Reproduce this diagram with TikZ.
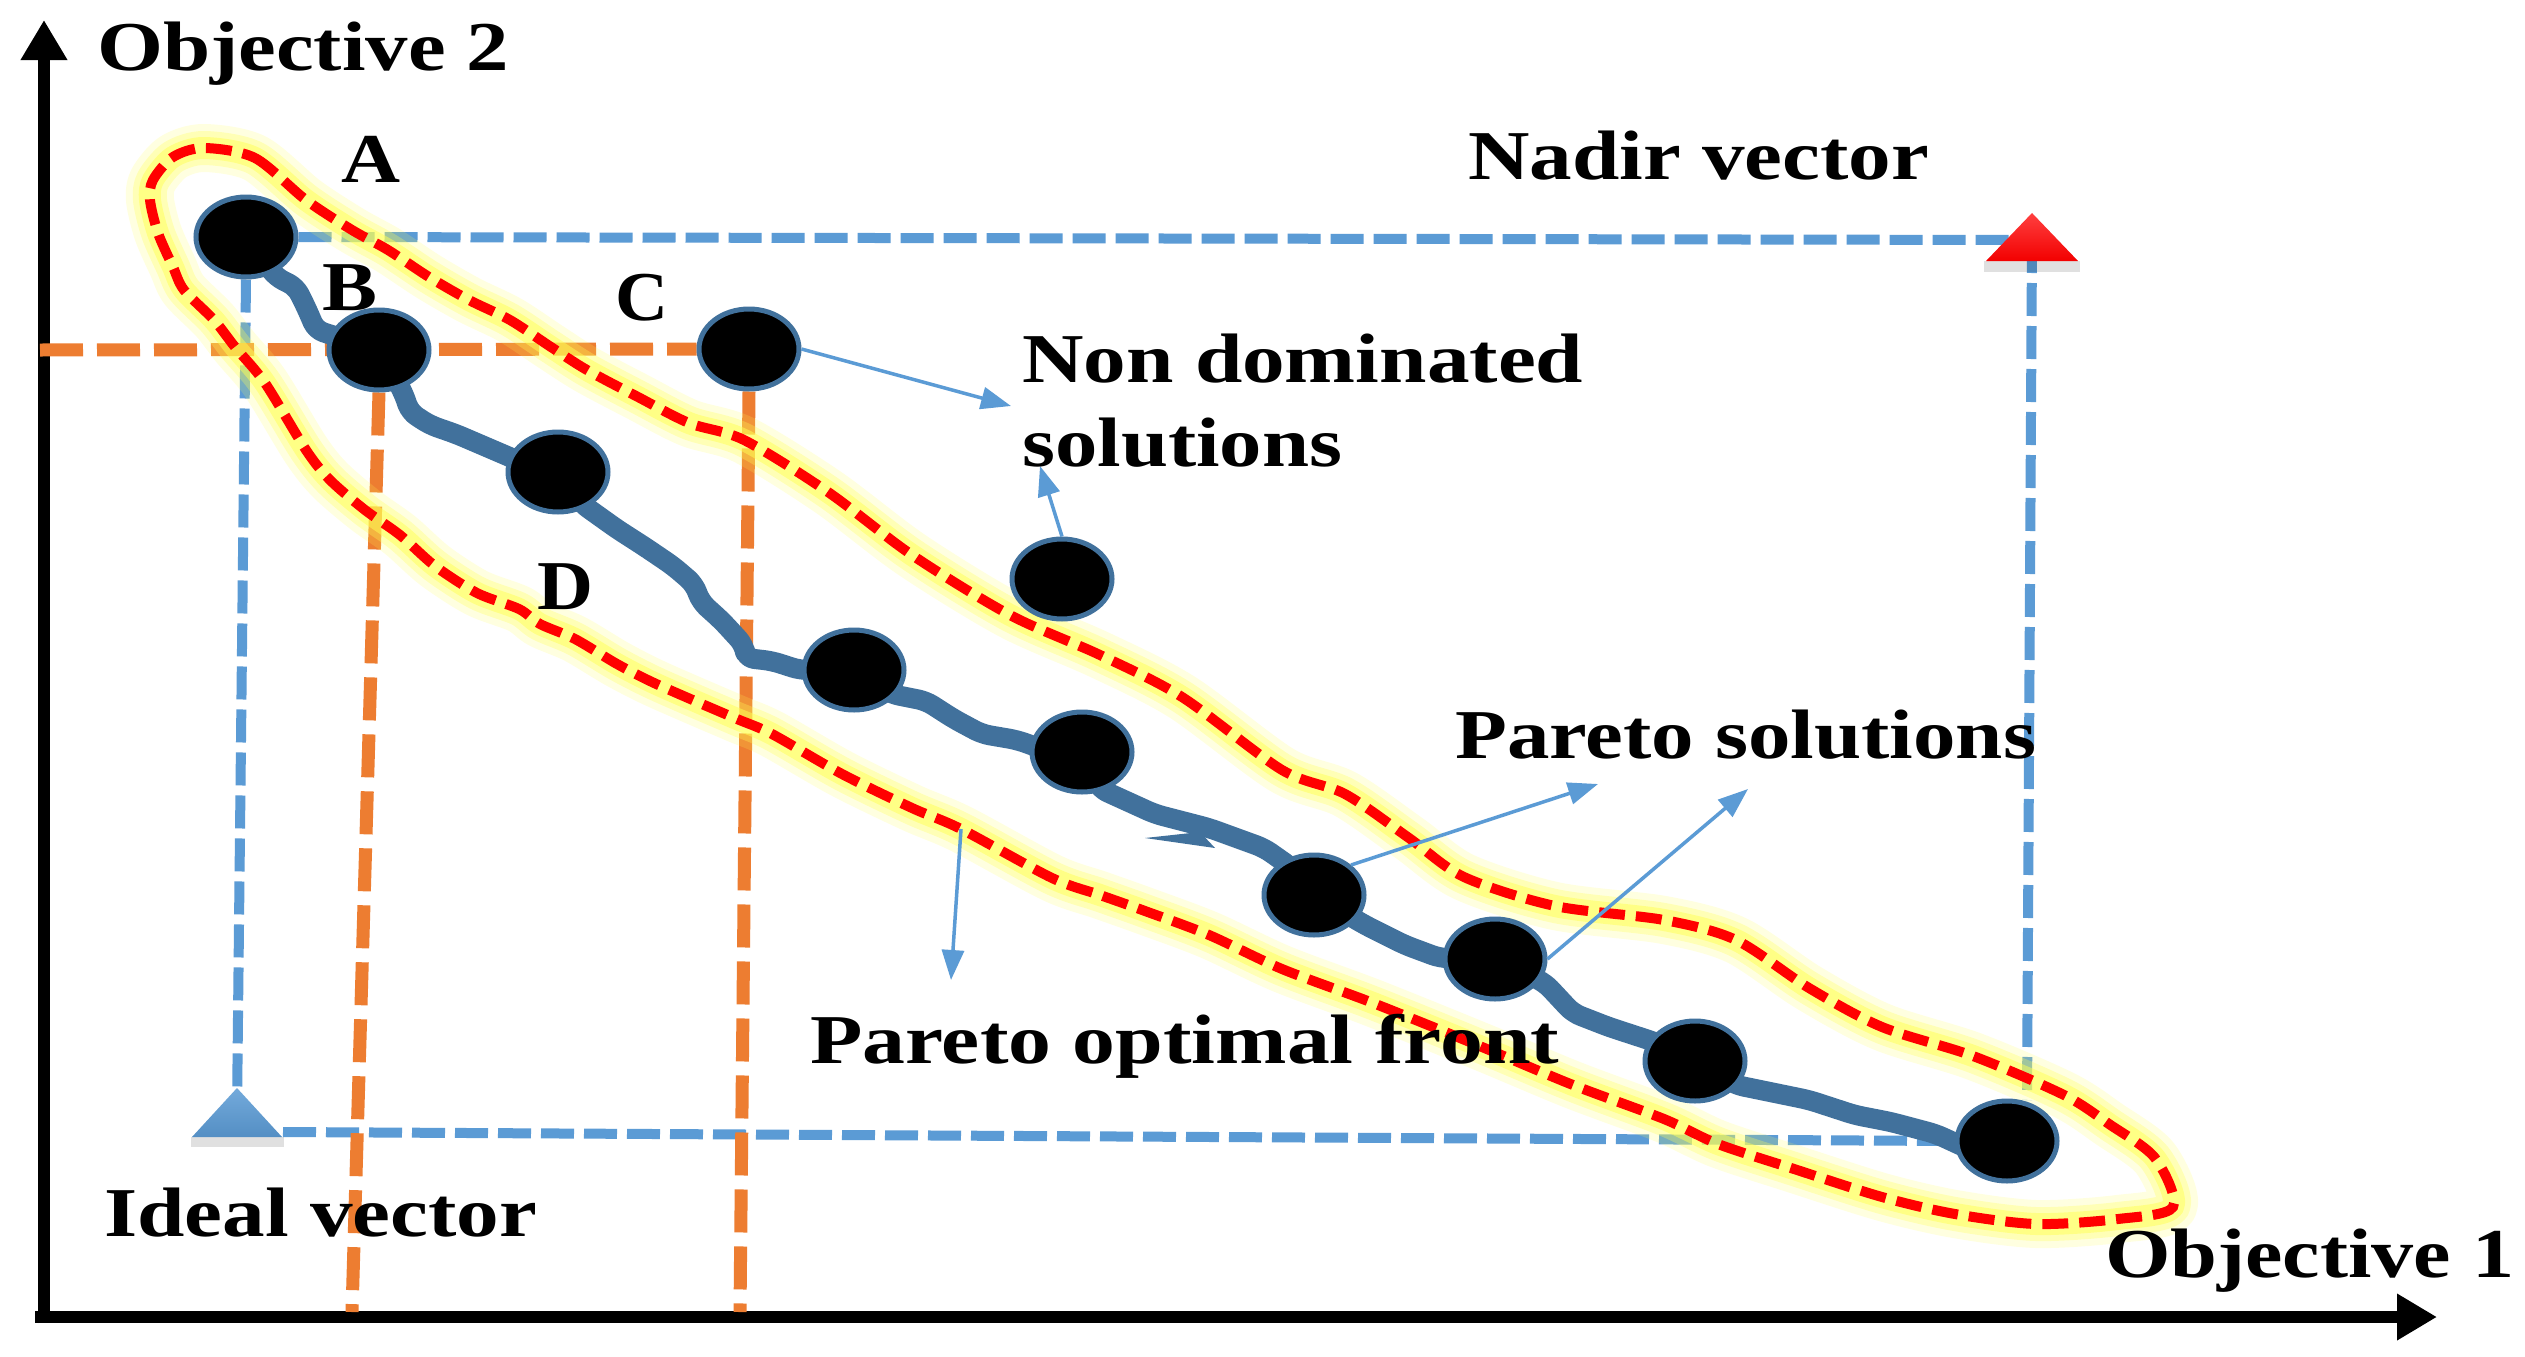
\documentclass[tikz,border=0pt]{standalone}
\usepackage{graphicx}
\usepackage{fontspec}
\setmainfont{Liberation Serif}
\usetikzlibrary{arrows.meta,shapes.geometric}
\definecolor{ptblue}{HTML}{41719C}
\definecolor{dblue}{HTML}{5B9BD5}
\definecolor{dorange}{HTML}{ED7D31}
\definecolor{glowy}{HTML}{FFFF55}
\newcommand\lbl[2]{\resizebox{#1pt}{\height}{#2}}
\pgfdeclarelayer{back}
\pgfdeclarelayer{glowl}
\pgfdeclarelayer{mid}
\pgfsetlayers{back,glowl,mid,main}
\begin{document}
\begin{tikzpicture}[x=1pt,y=-1pt,
  sol/.style={ellipse,fill=black,draw=ptblue,line width=5pt,minimum width=100pt,minimum height=80pt,inner sep=0pt},
  txt/.style={anchor=base west,inner sep=0pt,font=\fontsize{70pt}{84pt}\selectfont\bfseries},
  bdash/.style={draw=dblue,line width=10pt,dash pattern=on 33pt off 10pt},
  odash/.style={draw=dorange,line width=13pt,dash pattern=on 43pt off 14pt},
  thinarrow/.style={draw=dblue,line width=3.5pt,-{Triangle[length=30pt,width=22pt]}},
  axisline/.style={line width=12pt,-{Triangle[length=40pt,width=44pt]}},
  front/.style={draw=ptblue,line width=20pt,line join=round,line cap=round},
  ]
\useasboundingbox (0,0) rectangle (2525,1357);

% solution points
\node[sol] (pA) at (246,237) {};
\node[sol] (pB) at (379,350) {};
\node[sol] (pC) at (749,349) {};
\node[sol] (p4) at (558,472) {};
\node[sol] (p5) at (1062,579) {};
\node[sol] (p6) at (854,670) {};
\node[sol] (p7) at (1082,752) {};
\node[sol] (p8) at (1314,895) {};
\node[sol] (p9) at (1495,959) {};
\node[sol] (p10) at (1695,1061) {};
\node[sol] (p11) at (2007,1141) {};

% named coordinates
\coordinate (xstart) at (35,1317);
\coordinate (xtip) at (2437,1317);
\coordinate (ystart) at (44,1323);
\coordinate (ytip) at (44,20);
\coordinate (ideal) at (237,1110);
\coordinate (idealR) at (283,1132);
\coordinate (nadir) at (2032,240);
\coordinate (nadirD) at (2027,1100);
\coordinate (oL) at (40,350);
\coordinate (oB) at (352,1312);
\coordinate (oC) at (740,1312);
\coordinate (ndtip) at (1011,406);
\coordinate (ndtip2) at (1040,466);
\coordinate (pstip1) at (1598,784);
\coordinate (pstip2) at (1748,789);
\coordinate (pfstart) at (961,829);
\coordinate (pftip) at (951,980);

\begin{pgfonlayer}{back}
  \fill[white] (0,0) rectangle (2525,1357);
  \draw[axisline] (xstart) -- (xtip);
  \draw[axisline] (ystart) -- (ytip);
  \draw[bdash] (pA.east) -- (nadir);
  \draw[bdash] (pA.south) -- (ideal);
  \draw[bdash] (idealR) -- (p11.west);
  \draw[bdash] (nadir) -- (nadirD);
  \draw[odash] (oL) -- (pC.west);
  \draw[odash] (pB.south) -- (oB);
  \draw[odash] (pC.south) -- (oC);
\end{pgfonlayer}

\def\redloop{plot[smooth cycle,tension=0.5] coordinates {
(204,148) (255,158) (306,200) (352,230) (388,250) (429,277) (469,300) (510,320)
(551,347) (587,370) (638,397) (689,423) (744,440) (828,492) (912,555) (1010,615)
(1100,655) (1182,697) (1282,770) (1345,794) (1409,838) (1464,877) (1555,906)
(1664,920) (1736,940) (1809,988) (1882,1027) (1973,1056) (2064,1095) (2109,1124)
(2155,1158) (2173,1207) (2118,1219) (2036,1224) (1955,1214) (1882,1197) (1791,1168)
(1718,1144) (1664,1119) (1573,1085) (1482,1047) (1373,1003) (1282,969) (1209,935)
(1145,911) (1100,895) (1052,878) (961,829) (912,808) (842,774) (772,734) (737,719)
(695,701) (652,682) (617,664) (575,639) (540,624) (519,609) (477,593) (435,566)
(400,535) (365,510) (330,480) (306,450) (265,383) (235,347) (214,320) (184,290)
(173,267) (158,233) (150,200) (153,180) (173,157)}}

\begin{pgfonlayer}{glowl}
  \draw[glowy,opacity=0.18,line width=48pt,line join=round] \redloop;
  \draw[glowy,opacity=0.3,line width=34pt,line join=round] \redloop;
  \draw[glowy,opacity=0.5,line width=22pt,line join=round] \redloop;
  \draw[red,line width=10pt,dash pattern=on 26pt off 11pt] \redloop;
\end{pgfonlayer}

\begin{pgfonlayer}{mid}
  \draw[front,rounded corners=8pt] (pA.center) -- (276,277) -- (296,287) -- (306,307) -- (316,330)
    -- (pB.center) -- (403,392) -- (410,412) -- (430,425) -- (456,434) -- (491,449) -- (526,464)
    -- (p4.center) -- (582,504) -- (617,529) -- (645,547) -- (673,566) -- (694,584) -- (701,602)
    -- (722,621) -- (744,645) -- (746,658) -- (772,661) -- (800,670)
    -- (p6.center) -- (891,694) -- (926,701) -- (954,719) -- (982,734) -- (1017,740) -- (1045,750)
    -- (p7.center) -- (1100,789) -- (1155,814) -- (1209,828) -- (1264,848) -- (1291,867)
    -- (p8.center) -- (1365,925) -- (1405,945) -- (1440,958)
    -- (p9.center) -- (1545,983) -- (1573,1013) -- (1609,1027) -- (1655,1042)
    -- (p10.center) -- (1736,1085) -- (1809,1100) -- (1855,1115) -- (1891,1122) -- (1936,1134)
    -- (1975,1152) -- (p11.center);
  \fill[ptblue] (1200,832) -- (1145,838) -- (1215,848) -- cycle;
\end{pgfonlayer}

% thin arrows
\draw[thinarrow] (pC.east) -- (ndtip);
\draw[thinarrow] (p5.north) -- (ndtip2);
\draw[thinarrow] (p8.north east) -- (pstip1);
\draw[thinarrow] (p9.east) -- (pstip2);
\draw[thinarrow] (pfstart) -- (pftip);

% vector triangles
\fill[black,opacity=0.12] (191,1137) rectangle (284,1147);
\shade[top color=dblue!85!white,bottom color=dblue!92!black] (237,1088) -- (282,1137) -- (192,1137) -- cycle;
\fill[black,opacity=0.12] (1984,261) rectangle (2080,272);
\shade[top color=red!75!white,bottom color=red!95!black] (2032,213) -- (2078,261) -- (1986,261) -- cycle;

% labels
\node[txt] (tobj2) at (97,70) {\lbl{412}{Objective 2}};
\node[txt] (tobj1) at (2105,1277) {\lbl{409}{Objective 1}};
\node[txt] (tnadir) at (1468,179) {\lbl{461}{Nadir vector}};
\node[txt] (tideal) at (104,1236) {\lbl{433}{Ideal vector}};
\node[txt] (tA) at (341,182) {\lbl{59}{A}};
\node[txt] (tB) at (322,310) {\lbl{55}{B}};
\node[txt] (tC) at (615,320) {\lbl{53}{C}};
\node[txt] (tD) at (537,609) {\lbl{56}{D}};
\node[txt] (tnd1) at (1022,382) {\lbl{561}{Non dominated}};
\node[txt] (tnd2) at (1022,466) {\lbl{320}{solutions}};
\node[txt] (tps) at (1455,758) {\lbl{581}{Pareto solutions}};
\node[txt] (tpf) at (810,1063) {\lbl{749}{Pareto optimal front}};
\end{tikzpicture}
\end{document}
